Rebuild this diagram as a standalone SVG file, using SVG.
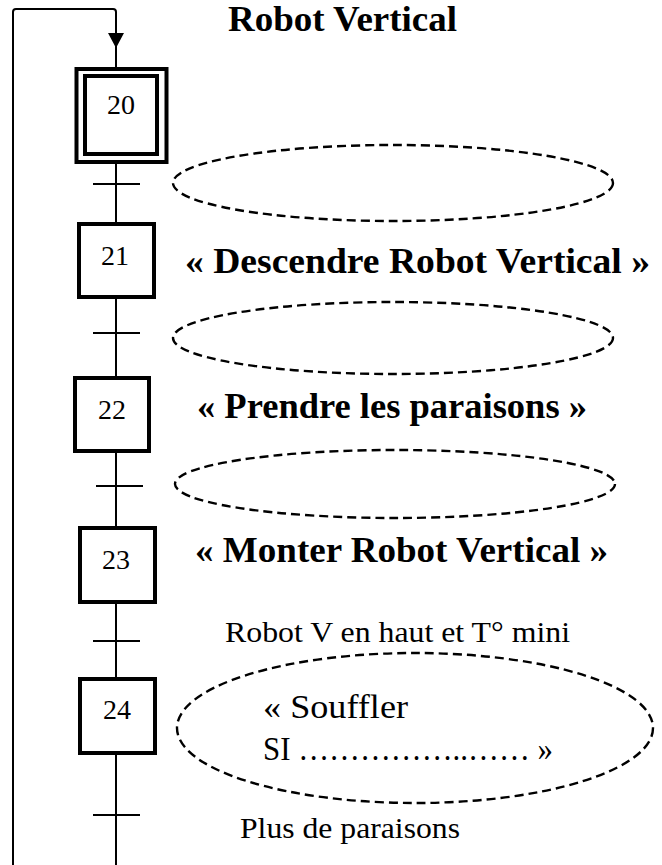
<svg xmlns="http://www.w3.org/2000/svg" width="662" height="865" viewBox="0 0 662 865">
<style>
.box{fill:#fff;stroke:#000;stroke-width:4}
.ln{fill:none;stroke:#000;stroke-width:2}
.tr{stroke:#000;stroke-width:2}
.act{fill:none;stroke:#000;stroke-width:2.4;stroke-dasharray:9 5}
.num{font-family:"Liberation Serif","Times New Roman",serif;font-size:28px;text-anchor:middle;fill:#000}
.bold{font-family:"Liberation Serif","Times New Roman",serif;font-size:35px;font-weight:bold;fill:#000}
.reg{font-family:"Liberation Serif","Times New Roman",serif;font-size:30px;fill:#000}
.big{font-family:"Liberation Serif","Times New Roman",serif;font-size:33px;fill:#000}
</style>
<rect width="662" height="865" fill="#fff"/>
<g id="connectors">
<path class="ln" d="M13,865 V12 Q13,9 16,9 H113 Q116,9 116,12 V67"/>
<polygon points="108,33 124,33 116,48" fill="#000"/>
<line class="ln" x1="116" y1="164" x2="116" y2="222"/>
<line class="ln" x1="116" y1="299" x2="116" y2="376"/>
<line class="ln" x1="116" y1="453" x2="116" y2="526"/>
<line class="ln" x1="116" y1="604" x2="116" y2="677"/>
<line class="ln" x1="116" y1="755" x2="116" y2="865"/>
</g>
<g id="step20">
<rect class="box" x="76.5" y="69" width="90" height="93"/>
<rect class="box" x="85" y="76" width="72" height="78"/>
<text class="num" x="121" y="114">20</text>
</g>
<g id="t20"><line class="tr" x1="93" y1="184" x2="140" y2="184"/></g>
<g id="step21">
<rect class="box" x="79" y="224" width="75" height="73"/>
<text class="num" x="115" y="265">21</text>
</g>
<g id="t21"><line class="tr" x1="93" y1="333" x2="140" y2="333"/></g>
<g id="step22">
<rect class="box" x="75" y="378" width="74" height="73"/>
<text class="num" x="112" y="419">22</text>
</g>
<g id="t22"><line class="tr" x1="96" y1="486" x2="143" y2="486"/></g>
<g id="step23">
<rect class="box" x="80" y="528" width="75" height="74"/>
<text class="num" x="116" y="569">23</text>
</g>
<g id="t23"><line class="tr" x1="93" y1="641" x2="140" y2="641"/></g>
<g id="step24">
<rect class="box" x="80" y="679" width="75" height="74"/>
<text class="num" x="117" y="719">24</text>
</g>
<g id="t24"><line class="tr" x1="93" y1="815" x2="140" y2="815"/></g>
<g id="title"><text class="bold" x="228" y="31" textLength="229" lengthAdjust="spacingAndGlyphs">Robot Vertical</text></g>
<g id="r20"><ellipse class="act" cx="393" cy="183" rx="220" ry="38"/></g>
<g id="a21"><text class="bold" x="185" y="273" textLength="465" lengthAdjust="spacingAndGlyphs">« Descendre Robot Vertical »</text></g>
<g id="r21"><ellipse class="act" cx="393" cy="338" rx="220" ry="36"/></g>
<g id="a22"><text class="bold" x="197" y="418" textLength="390" lengthAdjust="spacingAndGlyphs">« Prendre les paraisons »</text></g>
<g id="r22"><ellipse class="act" cx="395" cy="484" rx="220" ry="34"/></g>
<g id="a23"><text class="bold" x="195" y="562" textLength="413" lengthAdjust="spacingAndGlyphs">« Monter Robot Vertical »</text></g>
<g id="r23"><text class="reg" x="225" y="642" textLength="345" lengthAdjust="spacingAndGlyphs">Robot V en haut et T° mini</text></g>
<g id="a24">
<ellipse class="act" cx="415" cy="728" rx="238" ry="75"/>
<text class="big" x="263" y="718" textLength="145" lengthAdjust="spacingAndGlyphs">« Souffler</text>
<text class="big" x="263" y="760" textLength="290" lengthAdjust="spacingAndGlyphs">SI ……………..…… »</text>
</g>
<g id="r24"><text class="reg" x="240" y="838" textLength="220" lengthAdjust="spacingAndGlyphs">Plus de paraisons</text></g>
</svg>
